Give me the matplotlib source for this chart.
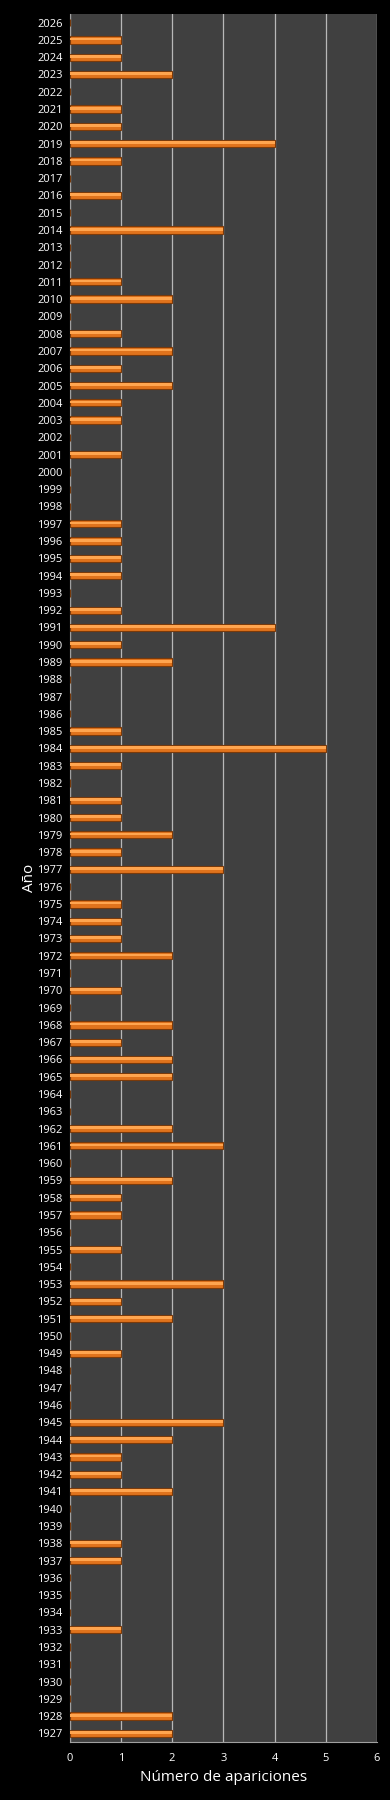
import matplotlib
matplotlib.use("Agg")
import matplotlib.pyplot as plt
import numpy as np

years = list(range(1927, 2027))
counts_desc = [  # 2026 down to 1927
    0, 1, 1, 2, 0, 1, 1, 4, 1, 0,   # 2026-2017
    1, 0, 3, 0, 0, 1, 2, 0, 1, 2,   # 2016-2007
    1, 2, 1, 1, 0, 1, 0, 0, 0, 1,   # 2006-1997
    1, 1, 1, 0, 1, 4, 1, 2, 0, 0,   # 1996-1987
    0, 1, 5, 1, 0, 1, 1, 2, 1, 3,   # 1986-1977
    0, 1, 1, 1, 2, 0, 1, 0, 2, 1,   # 1976-1967
    2, 2, 0, 0, 2, 3, 0, 2, 1, 1,   # 1966-1957
    0, 1, 0, 3, 1, 2, 0, 1, 0, 0,   # 1956-1947
    0, 3, 2, 1, 1, 2, 0, 0, 1, 1,   # 1946-1937
    0, 0, 0, 1, 0, 0, 0, 0, 2, 2,   # 1936-1927
]
counts = counts_desc[::-1]
xticks = [0, 1, 2, 3, 4, 5, 6]

plt.rcParams['font.family'] = ['Open Sans', 'DejaVu Sans']
fig = plt.figure(figsize=(3.9, 18), dpi=100, facecolor='black')
ax = fig.add_axes([69.5/390, 1-1742/1800, (377-69.5)/390, (1742-14)/1800])
ax.set_facecolor('#404040')

pos = np.arange(len(years))
vals = np.array(counts, dtype=float)
# base bar with dark edge
ax.barh(pos, vals, height=0.42, color='#e0731c', edgecolor='#7a3a0a', linewidth=0.8, zorder=3)
# highlight stripe
ax.barh(pos + 0.05, vals, height=0.16, left=0, color='#ffa54f', linewidth=0, zorder=4)

ax.set_ylim(-0.5, len(years) - 0.5)
ax.set_xlim(0, 6)
ax.set_yticks(pos)
ax.set_yticklabels([str(y) for y in years])
ax.set_xticks(xticks)
ax.grid(axis='x', color='#b8b8b8', linewidth=0.9, zorder=1)
ax.set_axisbelow(True)
for s in ['top', 'right']:
    ax.spines[s].set_visible(False)
ax.spines['left'].set_color('#a0a0a0')
ax.spines['bottom'].set_color('#a0a0a0')
ax.tick_params(axis='both', colors='white', length=0, labelsize=8)
ax.tick_params(axis='y', pad=5)
ax.tick_params(axis='x', pad=8)
ax.set_xlabel('Número de apariciones', color='white', fontsize=11, labelpad=4)
ax.set_ylabel('Año', color='white', fontsize=11, labelpad=0)

fig.savefig('out.png', dpi=100, facecolor='black')
